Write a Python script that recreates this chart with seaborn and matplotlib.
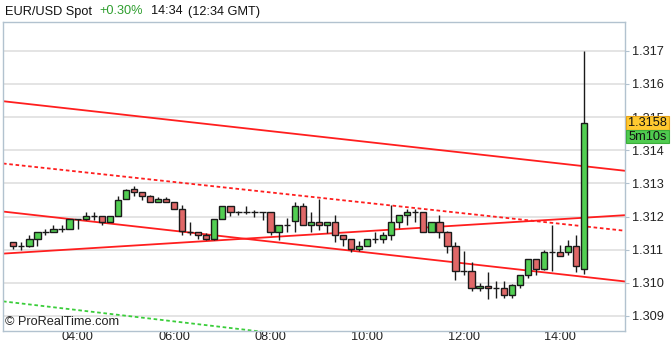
import numpy as np
import pandas as pd
import matplotlib
matplotlib.use("Agg")
import matplotlib.pyplot as plt
import seaborn as sns
from matplotlib.patches import Rectangle

# ---------------- data ----------------
first_candle_hour = 2 + 40 / 60      # 02:40
candle_step_hour = 10 / 60           # 10-minute candles

opens = [1.31122, 1.31112, 1.31112, 1.31132, 1.31153, 1.31153, 1.31162, 1.31162, 1.31192, 1.31193,
         1.31203, 1.31203, 1.31183, 1.31203, 1.31253, 1.31282, 1.31273, 1.31263, 1.31245, 1.31253,
         1.31243, 1.31223, 1.31153, 1.31153, 1.31145, 1.31132, 1.31192, 1.31232, 1.31213, 1.31213,
         1.31213, 1.31213, 1.31213, 1.31153, 1.31175, 1.31185, 1.31233, 1.31175, 1.31183, 1.31175,
         1.31183, 1.31143, 1.31132, 1.31102, 1.31112, 1.31132, 1.31132, 1.31143, 1.31183, 1.31205,
         1.31213, 1.31213, 1.31152, 1.31183, 1.31152, 1.31110, 1.31035, 1.31035, 1.30983, 1.30990,
         1.30983, 1.30983, 1.30962, 1.30992, 1.31022, 1.31073, 1.31043, 1.31093, 1.31093, 1.31093,
         1.31110, 1.31042]
highs = [1.31122, 1.31122, 1.31145, 1.31153, 1.31163, 1.31173, 1.31173, 1.31193, 1.31193, 1.31213,
         1.31213, 1.31203, 1.31203, 1.31263, 1.31282, 1.31293, 1.31273, 1.31265, 1.31258, 1.31258,
         1.31245, 1.31235, 1.31183, 1.31153, 1.31150, 1.31192, 1.31232, 1.31232, 1.31217, 1.31233,
         1.31220, 1.31215, 1.31213, 1.31175, 1.31195, 1.31243, 1.31242, 1.31213, 1.31252, 1.31183,
         1.31205, 1.31143, 1.31132, 1.31125, 1.31132, 1.31152, 1.31152, 1.31235, 1.31205, 1.31222,
         1.31222, 1.31213, 1.31183, 1.31205, 1.31155, 1.31122, 1.31095, 1.31062, 1.31000, 1.31032,
         1.31005, 1.31005, 1.30995, 1.31022, 1.31073, 1.31073, 1.31100, 1.31175, 1.31115, 1.31130,
         1.31145, 1.31700]
lows = [1.31103, 1.31100, 1.31108, 1.31112, 1.31145, 1.31153, 1.31153, 1.31162, 1.31162, 1.31190,
        1.31190, 1.31173, 1.31183, 1.31203, 1.31253, 1.31263, 1.31250, 1.31243, 1.31243, 1.31243,
        1.31223, 1.31145, 1.31145, 1.31133, 1.31128, 1.31128, 1.31192, 1.31203, 1.31205, 1.31208,
        1.31200, 1.31190, 1.31145, 1.31130, 1.31153, 1.31153, 1.31175, 1.31152, 1.31160, 1.31150,
        1.31123, 1.31110, 1.31092, 1.31095, 1.31110, 1.31120, 1.31120, 1.31130, 1.31165, 1.31175,
        1.31183, 1.31152, 1.31152, 1.31135, 1.31090, 1.31008, 1.31022, 1.30974, 1.30975, 1.30952,
        1.30955, 1.30955, 1.30955, 1.30985, 1.31015, 1.31022, 1.31040, 1.31035, 1.31080, 1.31085,
        1.31032, 1.31025]
closes = [1.31112, 1.31112, 1.31132, 1.31153, 1.31153, 1.31162, 1.31162, 1.31193, 1.31192, 1.31203,
          1.31203, 1.31183, 1.31203, 1.31250, 1.31280, 1.31273, 1.31263, 1.31243, 1.31253, 1.31245,
          1.31223, 1.31155, 1.31153, 1.31145, 1.31132, 1.31192, 1.31232, 1.31213, 1.31213, 1.31213,
          1.31213, 1.31213, 1.31153, 1.31175, 1.31175, 1.31233, 1.31175, 1.31183, 1.31175, 1.31183,
          1.31145, 1.31132, 1.31102, 1.31110, 1.31132, 1.31132, 1.31143, 1.31183, 1.31205, 1.31213,
          1.31213, 1.31152, 1.31183, 1.31152, 1.31110, 1.31035, 1.31035, 1.30983, 1.30990, 1.30983,
          1.30983, 1.30962, 1.30992, 1.31022, 1.31073, 1.31043, 1.31093, 1.31093, 1.31082, 1.31110,
          1.31052, 1.31482]

# trend lines: values at the left and right edges of the chart (hours)
line_hours = [2.4533, 15.347]
upper_channel = [1.31548, 1.31338]
dotted_channel = [1.31360, 1.31157]
lower_channel = [1.31215, 1.31004]
rising_line = [1.31088, 1.31204]
green_dashed = [1.30944, 1.30724]

y_ticks = [1.309, 1.310, 1.311, 1.312, 1.313, 1.314, 1.315, 1.316, 1.317]
x_ticks = [4, 6, 8, 10, 12, 14]
x_labels = ["04:00", "06:00", "08:00", "10:00", "12:00", "14:00"]

last_price_text = "1.3158"
timer_text = "5m10s"

# ---------------- styling ----------------
sns.set_theme(style="white")
plt.rcParams["font.family"] = ["Liberation Sans", "DejaVu Sans"]

FS = 9.2
UP = "#52CE52"
DOWN = "#E06868"
EDGE = "#1A1A1A"
FRAME = "#B2C2CF"
RED = "#FF1E1E"

fig = plt.figure(figsize=(6.72, 3.43), dpi=100)
ax = fig.add_axes([3 / 672, 1 - 330.5 / 343, 622 / 672, 308.5 / 343])
ax.set_facecolor("white")

hours = first_candle_hour + candle_step_hour * np.arange(len(opens))
df = pd.DataFrame({"hour": hours, "open": opens, "high": highs,
                   "low": lows, "close": closes})
df["bottom"] = df[["open", "close"]].min(axis=1)
df["height"] = (df["close"] - df["open"]).abs()
df["color"] = np.where(df["close"] >= df["open"], UP, DOWN)

# grid
for yt in y_ticks:
    ax.axhline(yt, color="#E2E2E2", lw=1.3, zorder=0.5)

# trend lines via seaborn
sns.lineplot(x=line_hours, y=upper_channel, ax=ax, color=RED, lw=1.3, zorder=1)
sns.lineplot(x=line_hours, y=lower_channel, ax=ax, color=RED, lw=1.3, zorder=1)
sns.lineplot(x=line_hours, y=rising_line, ax=ax, color=RED, lw=1.3, zorder=1)
sns.lineplot(x=line_hours, y=dotted_channel, ax=ax, color=RED, lw=1.3,
             linestyle=(0, (2.0, 1.5)), zorder=1)
sns.lineplot(x=line_hours, y=green_dashed, ax=ax, color="#3ACD3A", lw=1.3,
             linestyle=(0, (2.0, 1.5)), zorder=1)

# candles
ax.vlines(df["hour"], df["low"], df["high"], color=EDGE, lw=1.0, zorder=2)
ax.bar(df["hour"], df["height"], bottom=df["bottom"], width=0.13,
       color=df["color"], edgecolor=EDGE, linewidth=1.0, zorder=3)

ax.set_xlim(line_hours[0], line_hours[1])
ax.set_ylim(1.30856, 1.31787)

ax.set_xticks(x_ticks)
ax.set_xticklabels(x_labels)
ax.set_yticks(y_ticks)
ax.set_yticklabels([f"{v:.3f}" for v in y_ticks])
ax.yaxis.tick_right()
ax.tick_params(axis="y", right=True, left=False, labelright=True, labelleft=False,
               length=3, width=0.8, color=FRAME, pad=2, labelsize=FS, labelcolor="#222222")
ax.tick_params(axis="x", bottom=False, length=0, pad=0.5, labelsize=FS, labelcolor="#222222")
ax.set_xlabel("")
ax.set_ylabel("")

for sp in ax.spines.values():
    sp.set_visible(True)
    sp.set_color(FRAME)
    sp.set_linewidth(1.0)

# price tag boxes on the right axis
ytrans = ax.get_yaxis_transform()
box_x = 1.0016
box_w = 0.0691
tag_close = df["close"].iloc[-1]
tag_h = 0.00041
ax.add_patch(Rectangle((box_x, tag_close - tag_h / 2), box_w, tag_h, transform=ytrans,
                       facecolor="#FFC930", edgecolor="#E8A317", lw=0.8, clip_on=False, zorder=10))
ax.text(box_x + box_w / 2, tag_close, last_price_text, transform=ytrans, ha="center", va="center",
        fontsize=FS, color="#111111", clip_on=False, zorder=11)
ax.add_patch(Rectangle((box_x, tag_close - 1.5 * tag_h), box_w, tag_h, transform=ytrans,
                       facecolor="#4FCB4F", edgecolor="#3AAE3A", lw=0.8, clip_on=False, zorder=10))
ax.text(box_x + box_w / 2, tag_close - tag_h, timer_text, transform=ytrans, ha="center", va="center",
        fontsize=FS, color="#111111", clip_on=False, zorder=11)

# watermark
ax.text(2 / 622, 8.5 / 308.5, "\u00a9 ProRealTime.com", transform=ax.transAxes,
        ha="left", va="center", fontsize=FS, color="#222222", zorder=5)

# header
ty = 1 - 11.5 / 343
fig.text(5 / 672, ty, "EUR/USD Spot", ha="left", va="center", fontsize=FS, color="#111111")
fig.text(99 / 672, ty, "+0.30%", ha="left", va="center", fontsize=FS, color="#2E9E2E")
fig.text(151 / 672, ty, "14:34", ha="left", va="center", fontsize=FS, color="#111111")
fig.text(188 / 672, ty, "(12:34 GMT)", ha="left", va="center", fontsize=FS, color="#111111")

fig.savefig("out.png", dpi=100, facecolor="white")
